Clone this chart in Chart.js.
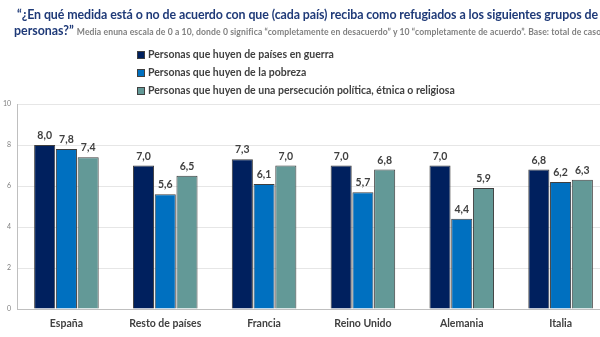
<!DOCTYPE html>
<html>
<head>
<meta charset="utf-8">
<script src="https://cdn.jsdelivr.net/npm/chart.js@4"></script>
<style>
  html, body { margin: 0; padding: 0; background: #fff; overflow: hidden; }
  #wrap { position: relative; width: 600px; height: 337px; overflow: hidden; }
  #chart-box { position: absolute; left: 0; top: 0; width: 610px; height: 337px; }
  .title { position: absolute; font-family: "Lato", "Open Sans", sans-serif; font-weight: bold; color: #1F3A78; white-space: nowrap; font-size: 12.4px; line-height: 15px; }
  .title small { font-size: 8.6px; color: #808080; font-weight: bold; margin-left: 3px; }
  #legend { position: absolute; left: 137px; top: 46px; font-family: "Lato", sans-serif; font-weight: bold; font-size: 10.5px; color: #404040; }
  #legend div { height: 18px; line-height: 16px; white-space: nowrap; }
  #legend span.sw { display: inline-block; width: 8px; height: 8px; margin-right: 3px; border: 1px solid #404040; box-sizing: border-box; vertical-align: -0.5px; }
</style>
</head>
<body>
<div id="wrap">
  <div id="chart-box"><canvas id="c" width="610" height="337"></canvas></div>
  <div class="title" style="left:17px; top:7px;"><span id="t1">“¿En qué medida está o no de acuerdo con que (cada país) reciba como refugiados a los siguientes grupos de</span></div>
  <div class="title" style="left:14px; top:23px;">personas?”<small id="t2">Media enuna escala de 0 a 10, donde 0 significa “completamente en desacuerdo” y 10 “completamente de acuerdo”. Base: total de casos</small></div>
  <div id="legend"></div>
</div>
<script>
// Countries on the x axis
const categories = ["España", "Resto de países", "Francia", "Reino Unido", "Alemania", "Italia"];

// Mean score (0–10) per group of refugees
const seriesNames = [
  "Personas que huyen de países en guerra",
  "Personas que huyen de la pobreza",
  "Personas que huyen de una persecución política, étnica o religiosa"
];
const guerra      = [8.0, 7.0, 7.3, 7.0, 7.0, 6.8];
const pobreza     = [7.8, 5.6, 6.1, 5.7, 4.4, 6.2];
const persecucion = [7.4, 6.5, 7.0, 6.8, 5.9, 6.3];

const yTicks = [0, 2, 4, 6, 8, 10];

const colors = ["#00205E", "#0070C0", "#639997"];
const values = [guerra, pobreza, persecucion];

// Stretch or tighten a header line so it ends at a given x
function fitTo(el, right) {
  const box = el.getBoundingClientRect();
  const n = el.textContent.length;
  el.style.letterSpacing = ((right - box.right) / n) + "px";
}
fitTo(document.getElementById("t1"), 598);
fitTo(document.getElementById("t2"), 605);

// Legend built from the same series
const legend = document.getElementById("legend");
seriesNames.forEach((name, i) => {
  const row = document.createElement("div");
  const sw = document.createElement("span");
  sw.className = "sw";
  sw.style.background = colors[i];
  row.appendChild(sw);
  row.appendChild(document.createTextNode(name));
  legend.appendChild(row);
});

// Value labels above each bar, decimal comma
const valueLabels = {
  id: "valueLabels",
  afterDatasetsDraw(chart) {
    const ctx = chart.ctx;
    ctx.save();
    ctx.font = "bold 10.5px Lato, sans-serif";
    ctx.fillStyle = "#404040";
    ctx.textAlign = "center";
    ctx.textBaseline = "bottom";
    chart.data.datasets.forEach((ds, di) => {
      chart.getDatasetMeta(di).data.forEach((bar, i) => {
        ctx.fillText(ds.data[i].toFixed(1).replace(".", ","), bar.x, bar.y - 4);
      });
    });
    ctx.restore();
  }
};

new Chart(document.getElementById("c"), {
  type: "bar",
  data: {
    labels: categories,
    datasets: values.map((v, i) => ({
      label: seriesNames[i],
      data: v,
      backgroundColor: colors[i],
      borderColor: "#3F3F3F",
      borderWidth: 1,
      categoryPercentage: 0.66,
      barPercentage: 0.97
    }))
  },
  options: {
    responsive: false,
    animation: false,
    layout: { padding: { top: 104, right: 0, left: 0, bottom: 0 } },
    plugins: { legend: { display: false }, tooltip: { enabled: false } },
    scales: {
      x: {
        grid: { display: false, drawTicks: false },
        border: { color: "#BFBFBF", width: 1 },
        ticks: {
          color: "#404040",
          font: { family: "Lato", weight: "bold", size: 10.5 },
          padding: 8
        },
        afterFit(s) { s.height = 28; }
      },
      y: {
        min: 0, max: 10,
        afterBuildTicks(s) { s.ticks = yTicks.map(v => ({ value: v })); },
        grid: { color: "#E6E6E6", drawTicks: false },
        border: { color: "#BFBFBF", width: 1 },
        ticks: {
          color: "#7F7F7F",
          font: { family: "Lato", size: 7 },
          padding: 6
        },
        afterFit(s) { s.width = 17; }
      }
    }
  },
  plugins: [valueLabels]
});
</script>
</body>
</html>
